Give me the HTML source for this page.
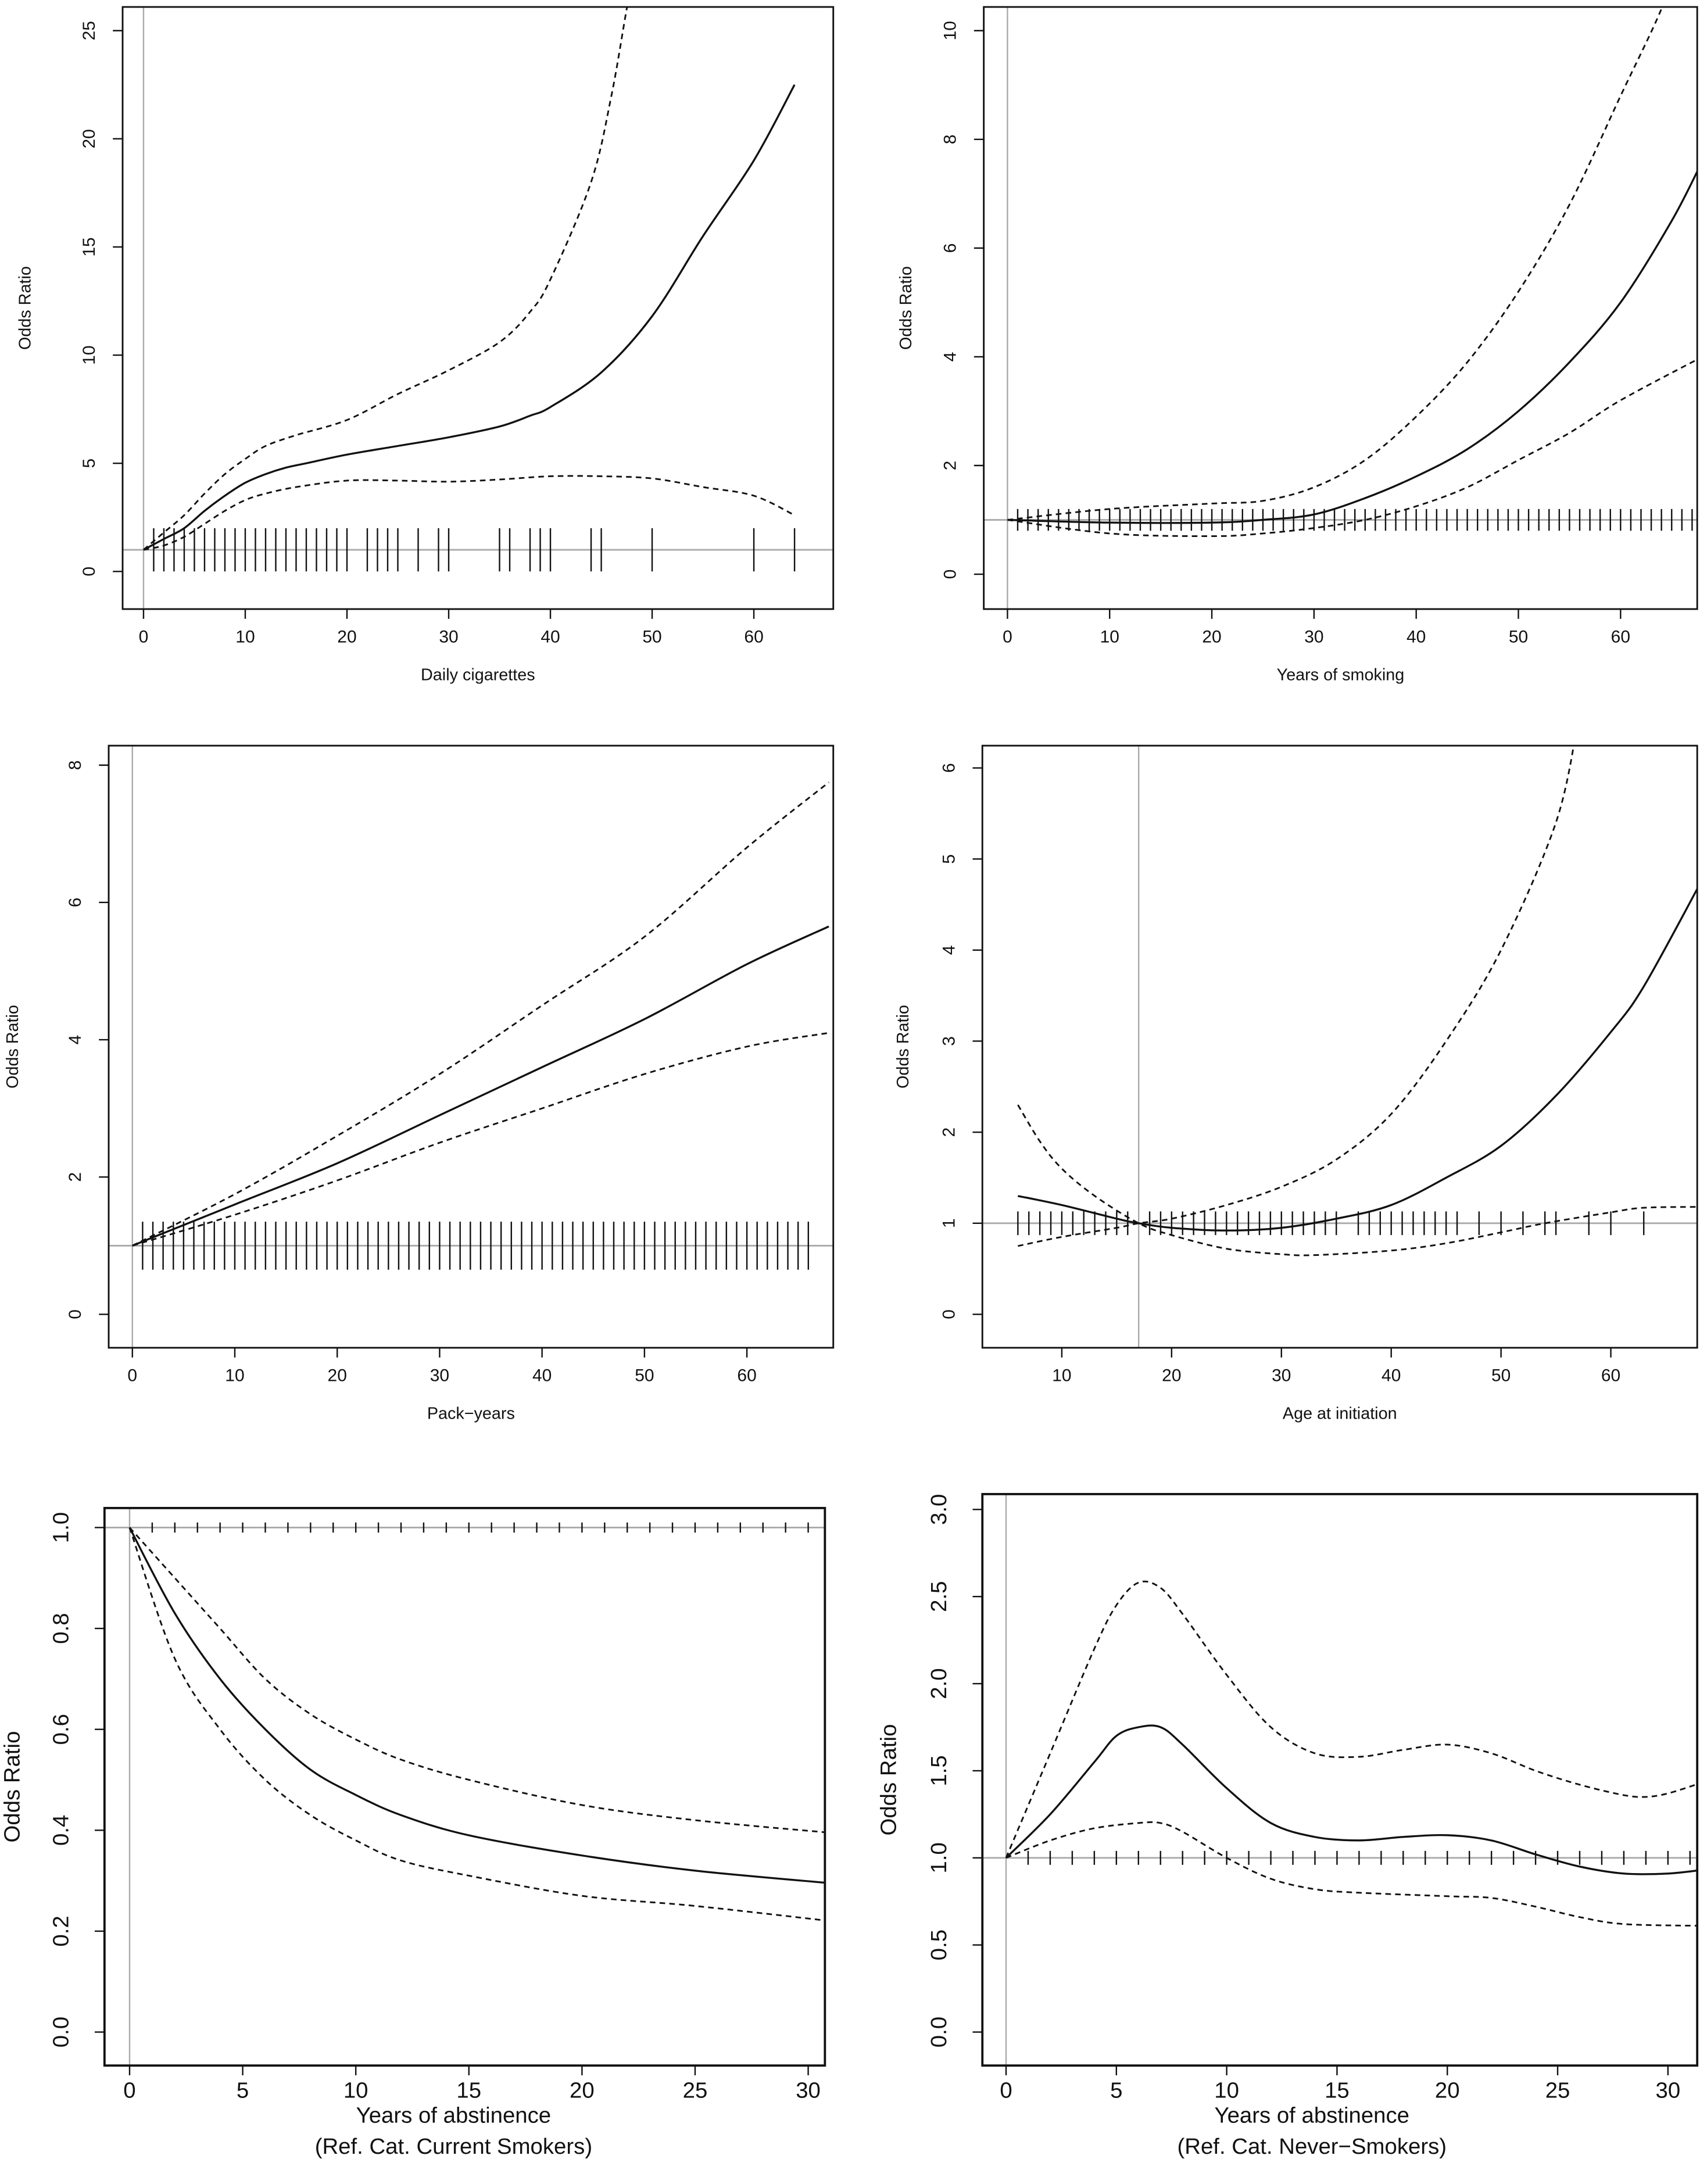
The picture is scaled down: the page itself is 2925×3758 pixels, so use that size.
<!DOCTYPE html>
<html><head><meta charset="utf-8"><style>
html,body{margin:0;padding:0;background:#fff;}
svg{display:block;}
text{font-family:"Liberation Sans",sans-serif;fill:#111;}
</style></head>
<body>
<svg id="fig" width="2925" height="3758" viewBox="0 0 1220 1567" preserveAspectRatio="none" xmlns="http://www.w3.org/2000/svg"></svg>
<script>
// Panel 1: Daily cigarettes
const p1CenterX=[0,2,4,6,8,10,12,14,16,20,25,30,35,38,40,45,50,55,60,64];
const p1CenterY=[1,1.5,2,2.8,3.5,4.1,4.5,4.8,5.0,5.4,5.8,6.2,6.7,7.2,7.6,9.2,11.8,15.5,19,22.5];
const p1UpperX=[0,2,4,6,8,10,12,15,20,25,30,35,38,40,44,46,47.5,48];
const p1UpperY=[1,1.8,2.6,3.6,4.5,5.2,5.8,6.3,7.0,8.2,9.3,10.6,12,13.5,18,22,26,27];
const p1LowerX=[0,2,4,6,8,10,12,15,20,25,30,35,40,45,50,55,60,64];
const p1LowerY=[1,1.2,1.6,2.2,2.8,3.3,3.6,3.9,4.2,4.2,4.15,4.25,4.4,4.4,4.3,3.9,3.5,2.6];
const p1Rug=[1,2,3,4,5,6,7,8,9,10,11,12,13,14,15,16,17,18,19,20,22,23,24,25,27,29,30,35,36,38,39,40,44,45,50,60,64];
const p1XTicks=[0,10,20,30,40,50,60];
const p1YTicks=[0,5,10,15,20,25];
// Panel 2: Years of smoking
const p2CenterX=[0,10,20,25,30,35,40,45,50,55,60,65,68];
const p2CenterY=[1,0.95,0.95,1.0,1.1,1.4,1.8,2.3,3.0,3.9,5.0,6.5,7.6];
const p2UpperX=[0,10,20,25,30,35,40,45,50,55,60,64,66];
const p2UpperY=[1,1.2,1.3,1.35,1.6,2.1,2.9,3.9,5.2,6.8,8.8,10.4,11.5];
const p2LowerX=[0,10,20,25,30,35,40,45,50,55,60,68];
const p2LowerY=[1,0.75,0.7,0.75,0.85,1.0,1.25,1.6,2.1,2.6,3.2,4.0];
const p2Rug=[1,2,3,4,5,6,7,8,9,10,11,12,13,14,15,16,17,18,19,20,21,22,23,24,25,26,27,28,29,30,31,32,33,34,35,36,37,38,39,40,41,42,43,44,45,46,47,48,49,50,51,52,53,54,55,56,57,58,59,60,61,62,63,64,65,66,67];
const p2XTicks=[0,10,20,30,40,50,60];
const p2YTicks=[0,2,4,6,8,10];
// Panel 3: Pack-years
const p3CenterX=[0,10,20,30,40,50,60,68];
const p3CenterY=[1,1.6,2.2,2.9,3.6,4.3,5.1,5.65];
const p3UpperX=[0,10,20,30,40,50,60,68];
const p3UpperY=[1,1.75,2.6,3.5,4.5,5.5,6.8,7.75];
const p3LowerX=[0,10,20,30,40,50,60,68];
const p3LowerY=[1,1.45,1.95,2.5,3.0,3.5,3.9,4.1];
const p3Rug=[1,2,3,4,5,6,7,8,9,10,11,12,13,14,15,16,17,18,19,20,21,22,23,24,25,26,27,28,29,30,31,32,33,34,35,36,37,38,39,40,41,42,43,44,45,46,47,48,49,50,51,52,53,54,55,56,57,58,59,60,61,62,63,64,65,66];
const p3XTicks=[0,10,20,30,40,50,60];
const p3YTicks=[0,2,4,6,8];
// Panel 4: Age at initiation
const p4CenterX=[6,10,15,17,20,25,30,35,40,45,50,55,60,63,68];
const p4CenterY=[1.3,1.2,1.05,1.0,0.95,0.92,0.95,1.05,1.2,1.5,1.85,2.4,3.1,3.6,4.7];
const p4UpperX=[6,10,15,17,20,25,30,35,40,45,50,55,57];
const p4UpperY=[0.75,0.85,0.95,1.0,1.05,1.2,1.4,1.7,2.2,3.0,4.0,5.4,6.5];
const p4LowerX=[6,8,10,13,17,20,25,30,33,40,45,50,54,60,63,68];
const p4LowerY=[2.3,1.9,1.6,1.3,1.0,0.87,0.72,0.66,0.65,0.7,0.78,0.9,1.0,1.12,1.17,1.18];
const p4Rug=[6,7,8,9,10,11,12,13,14,15,16,18,19,20,21,22,23,24,25,26,27,28,29,30,31,32,33,34,35,37,38,39,40,41,42,43,44,45,46,48,50,52,54,55,58,60,63];
const p4XTicks=[10,20,30,40,50,60];
const p4YTicks=[0,1,2,3,4,5,6];
// Panel 5: abstinence vs current smokers
const p5CenterX=[0,2,4,6,8,10,12,15,20,25,31];
const p5CenterY=[1,0.83,0.7,0.6,0.52,0.47,0.43,0.39,0.35,0.32,0.295];
const p5UpperX=[0,2,4,6,8,10,12,15,20,25,31];
const p5UpperY=[1,0.9,0.8,0.7,0.63,0.58,0.54,0.5,0.45,0.42,0.395];
const p5LowerX=[0,2,4,6,8,10,12,15,20,25,31];
const p5LowerY=[1,0.74,0.6,0.5,0.43,0.38,0.34,0.31,0.27,0.25,0.22];
const p5Rug=[1,2,3,4,5,6,7,8,9,10,11,12,13,14,15,16,17,18,19,20,21,22,23,24,25,26,27,28,29,30,31];
const p5XTicks=[0,5,10,15,20,25,30];
const p5YTicks=[0,0.2,0.4,0.6,0.8,1.0];
// Panel 6: abstinence vs never smokers
const p6CenterX=[0,2,4,5,6,7,8,10,12,14,16,18,20,22,24,26,28,30,31.5];
const p6CenterY=[1,1.25,1.55,1.7,1.75,1.75,1.65,1.4,1.2,1.12,1.1,1.12,1.13,1.1,1.02,0.95,0.91,0.91,0.93];
const p6UpperX=[0,2,4,5,6,7,8,10,12,14,16,18,20,22,24,26,28,29,30,31.5];
const p6UpperY=[1,1.6,2.2,2.45,2.58,2.55,2.4,2.05,1.75,1.6,1.58,1.62,1.65,1.6,1.5,1.42,1.36,1.35,1.37,1.43];
const p6LowerX=[0,2,4,6,7,8,10,12,14,16,20,22,24,26,28,31.5];
const p6LowerY=[1,1.1,1.17,1.2,1.2,1.15,1.0,0.88,0.82,0.8,0.78,0.77,0.72,0.66,0.62,0.61];
const p6Rug=[1,2,3,4,5,6,7,8,9,10,11,12,13,14,15,16,17,18,19,20,21,22,23,24,25,26,27,28,29,30,31];
const p6XTicks=[0,5,10,15,20,25,30];
const p6YTicks=[0,0.5,1.0,1.5,2.0,2.5,3.0];

const NS="http://www.w3.org/2000/svg";
const fig=document.getElementById('fig');
function mk(tag,attrs,parent){const e=document.createElementNS(NS,tag);for(const k in attrs)e.setAttribute(k,attrs[k]);(parent||fig).appendChild(e);return e;}
function smoothPath(pts){
  let d='M'+pts[0][0].toFixed(2)+','+pts[0][1].toFixed(2);
  for(let i=0;i<pts.length-1;i++){
    const p0=pts[i-1]||pts[i],p1=pts[i],p2=pts[i+1],p3=pts[i+2]||p2;
    const c1=[p1[0]+(p2[0]-p0[0])/6,p1[1]+(p2[1]-p0[1])/6];
    const c2=[p2[0]-(p3[0]-p1[0])/6,p2[1]-(p3[1]-p1[1])/6];
    d+='C'+c1[0].toFixed(2)+','+c1[1].toFixed(2)+' '+c2[0].toFixed(2)+','+c2[1].toFixed(2)+' '+p2[0].toFixed(2)+','+p2[1].toFixed(2);
  }
  return d;
}
function panel(cfg){
  const g=mk('g',{});
  
  
  const sx=v=>cfg.xa[1]+(v-cfg.xa[0])*(cfg.xb[1]-cfg.xa[1])/(cfg.xb[0]-cfg.xa[0]);
  const sy=v=>cfg.ya[1]+(v-cfg.ya[0])*(cfg.yb[1]-cfg.ya[1])/(cfg.yb[0]-cfg.ya[0]);
  const b=cfg.box;
  const cid='clip-'+cfg.name;
  const cp=mk('clipPath',{id:cid},g);
  mk('rect',{x:b[0],y:b[1],width:b[2]-b[0],height:b[3]-b[1]},cp);
  const inner=mk('g',{'clip-path':'url(#'+cid+')'},g);
  const hl=mk('line',{x1:b[0],x2:b[2],y1:sy(1),y2:sy(1),stroke:'#aaa','stroke-width':1.2},inner);
  
  
  const vl=mk('line',{x1:sx(cfg.vref),x2:sx(cfg.vref),y1:b[1],y2:b[3],stroke:'#aaa','stroke-width':1},inner);
  
  
  cfg.rug.forEach(r=>{
    const t=mk('line',{x1:sx(r),x2:sx(r),y1:sy(cfg.rugLo),y2:sy(cfg.rugHi),stroke:'#111','stroke-width':1},inner);
    
    
  });
  const lines=[[cfg.ux,cfg.uy,true,'upper-ci-line'],[cfg.lx,cfg.ly,true,'lower-ci-line'],[cfg.cx,cfg.cy,false,'odds-ratio-line']];
  lines.forEach(([xs,ys,dash,nm])=>{
    const pts=xs.map((x,i)=>[sx(x),sy(ys[i])]);
    const p=mk('path',{d:smoothPath(pts),fill:'none',stroke:'#111','stroke-width':dash?1.2:1.4},inner);
    if(dash)p.setAttribute('stroke-dasharray','4 3');
    
    
  });
  const bx=mk('rect',{x:b[0],y:b[1],width:b[2]-b[0],height:b[3]-b[1],fill:'none',stroke:'#111','stroke-width':cfg.bw},g);
  
  
  cfg.xt.forEach(v=>{
    const x=sx(v);
    mk('line',{x1:x,x2:x,y1:b[3],y2:b[3]+7,stroke:'#111','stroke-width':1},g);
    const t=mk('text',{x:x,y:b[3]+cfg.xlo,'text-anchor':'middle','font-size':cfg.fs},g);
    t.textContent=String(v);
    
    
  });
  cfg.yt.forEach(v=>{
    const y=sy(v);
    mk('line',{x1:b[0],x2:b[0]-7,y1:y,y2:y,stroke:'#111','stroke-width':1},g);
    const lx=b[0]-cfg.ylo;
    const t=mk('text',{x:lx,y:y,'text-anchor':'middle','font-size':cfg.fs,transform:'rotate(-90 '+lx+' '+y+')'},g);
    t.textContent=cfg.ydec?v.toFixed(1):String(v);
    
    
  });
  const cxm=(b[0]+b[2])/2;
  cfg.xtitle.forEach((s,i)=>{
    const t=mk('text',{x:cxm+(cfg.xtoff||0),y:b[3]+cfg.xto+i*cfg.fs*1.4,'text-anchor':'middle','font-size':cfg.tfs},g);
    t.textContent=s;
    
    
  });
  const ym=(b[1]+b[3])/2;
  const yt=mk('text',{x:cfg.ytx,y:ym,'text-anchor':'middle','font-size':cfg.tfs,transform:'rotate(-90 '+cfg.ytx+' '+ym+')'},g);
  yt.textContent='Odds Ratio';
  
  
}
const small={fs:12.5,tfs:12,bw:1.2,xlo:24,ylo:20,xto:51};
panel(Object.assign({name:'panel-daily-cigarettes',box:[88,5,598,437],xa:[0,103],xb:[60,541],ya:[0,410],yb:[25,22],vref:0,rug:p1Rug,rugLo:0,rugHi:2,
 cx:p1CenterX,cy:p1CenterY,ux:p1UpperX,uy:p1UpperY,lx:p1LowerX,ly:p1LowerY,xt:p1XTicks,yt:p1YTicks,xtitle:['Daily cigarettes'],ytx:22},small));
panel(Object.assign({name:'panel-years-of-smoking',box:[706,5,1218,437],xa:[0,723],xb:[60,1163],ya:[0,412],yb:[10,22],vref:0,rug:p2Rug,rugLo:0.8,rugHi:1.2,
 cx:p2CenterX,cy:p2CenterY,ux:p2UpperX,uy:p2UpperY,lx:p2LowerX,ly:p2LowerY,xt:p2XTicks,yt:p2YTicks,xtitle:['Years of smoking'],ytx:654},small));
panel(Object.assign({name:'panel-pack-years',box:[78,535,598,967],xa:[0,95],xb:[60,536],ya:[0,943],yb:[8,549],vref:0,rug:p3Rug,rugLo:0.65,rugHi:1.35,
 cx:p3CenterX,cy:p3CenterY,ux:p3UpperX,uy:p3UpperY,lx:p3LowerX,ly:p3LowerY,xt:p3XTicks,yt:p3YTicks,xtitle:['Pack\u2212years'],ytx:13},small));
panel(Object.assign({name:'panel-age-at-initiation',box:[705,535,1218,967],xa:[10,762],xb:[60,1156],ya:[0,943],yb:[6,551],vref:17,rug:p4Rug,rugLo:0.87,rugHi:1.13,
 cx:p4CenterX,cy:p4CenterY,ux:p4UpperX,uy:p4UpperY,lx:p4LowerX,ly:p4LowerY,xt:p4XTicks,yt:p4YTicks,xtitle:['Age at initiation'],ytx:652},small));
const big={fs:16,tfs:16,bw:1.6,xlo:23,ylo:26,xto:41};
panel(Object.assign({name:'panel-abstinence-current-smokers',box:[75,1082,592,1482],xa:[0,93],xb:[30,580],ya:[0,1458],yb:[1,1096],vref:0,rug:p5Rug,rugLo:0.99,rugHi:1.01,ydec:true,
 cx:p5CenterX,cy:p5CenterY,ux:p5UpperX,uy:p5UpperY,lx:p5LowerX,ly:p5LowerY,xt:p5XTicks,yt:p5YTicks,xtitle:['Years of abstinence','(Ref. Cat. Current Smokers)'],xtoff:-8,ytx:14},big));
panel(Object.assign({name:'panel-abstinence-never-smokers',box:[705,1072,1218,1482],xa:[0,722],xb:[30,1197],ya:[0,1458],yb:[3,1083],vref:0,rug:p6Rug,rugLo:0.96,rugHi:1.04,ydec:true,
 cx:p6CenterX,cy:p6CenterY,ux:p6UpperX,uy:p6UpperY,lx:p6LowerX,ly:p6LowerY,xt:p6XTicks,yt:p6YTicks,xtitle:['Years of abstinence','(Ref. Cat. Never\u2212Smokers)'],xtoff:-20,ytx:643},big));
</script>
</body></html>
